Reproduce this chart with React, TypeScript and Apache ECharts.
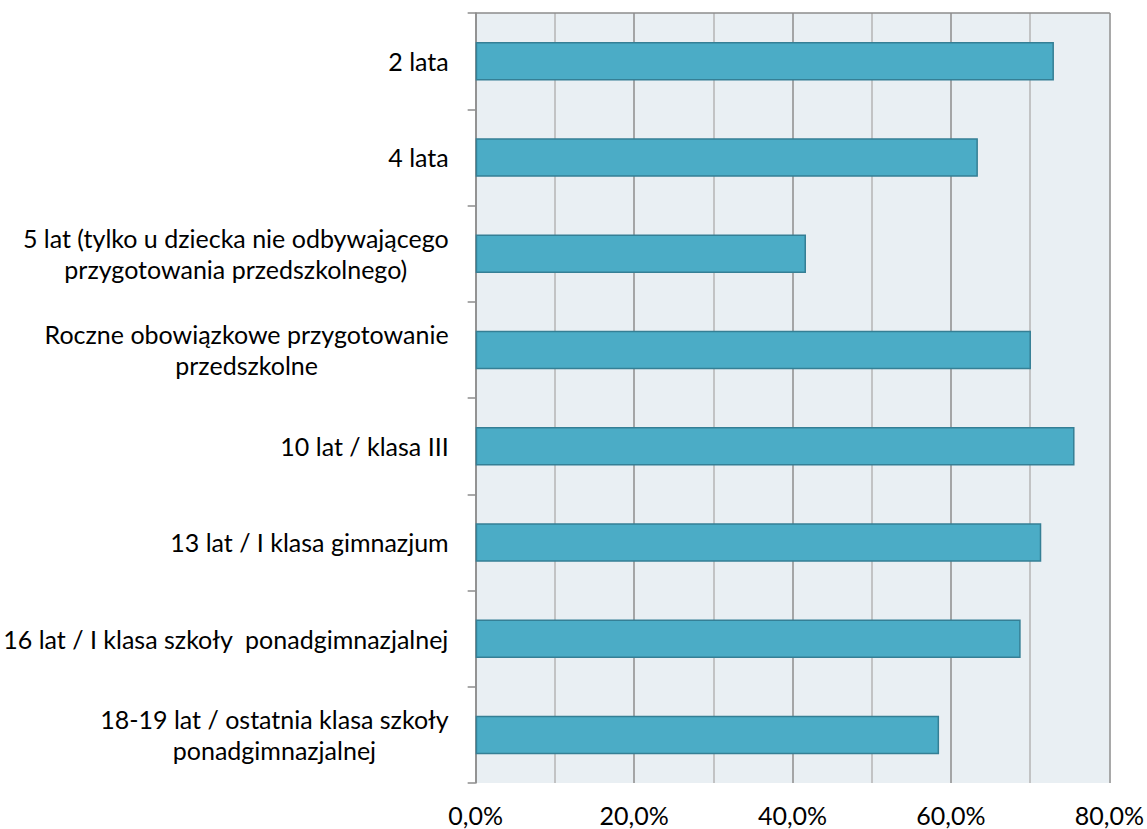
import React, { useEffect, useRef } from "react";
import * as echarts from "echarts";

const categories: string[] = [
  "2 lata",
  "4 lata",
  "5 lat (tylko u dziecka nie odbywającego\nprzygotowania przedszkolnego)",
  "Roczne obowiązkowe przygotowanie\nprzedszkolne",
  "10 lat / klasa III",
  "13 lat / I klasa gimnazjum",
  "16 lat / I klasa szkoły  ponadgimnazjalnej",
  "18-19 lat / ostatnia klasa szkoły\nponadgimnazjalnej",
];

const values: number[] = [73.0, 63.4, 41.7, 70.1, 75.6, 71.4, 68.8, 58.5];

const xMin = 0;
const xMax = 80;
const xMajorStep = 20;

const formatPct = (v: number): string => v.toFixed(1).replace(".", ",") + "%";

const FONT = "Lato";

export default function App() {
  const ref = useRef<HTMLDivElement>(null);

  useEffect(() => {
    if (!ref.current) return;
    const chart = echarts.init(ref.current, undefined, { renderer: "svg" });
    chart.setOption({
      animation: false,
      grid: {
        left: 474,
        right: 36,
        top: 13,
        bottom: 46,
        show: true,
        backgroundColor: "#e9eff3",
        borderWidth: 0,
      },
      xAxis: [
        {
          type: "value",
          position: "bottom",
          min: xMin,
          max: xMax,
          interval: xMajorStep,
          axisLine: { show: false },
          axisTick: { show: false },
          axisLabel: {
            formatter: (v: number) => formatPct(v),
            fontFamily: FONT,
            fontSize: 25,
            color: "#000",
            margin: 19,
          },
          splitLine: { show: true, lineStyle: { color: "#8c8c8c", width: 1.5 } },
          minorTick: { show: false, splitNumber: 2 },
          minorSplitLine: { show: true, lineStyle: { color: "#b5b5b5", width: 1.5 } },
        },
        {
          type: "value",
          position: "top",
          min: xMin,
          max: xMax,
          axisLine: { show: true, lineStyle: { color: "#8c8c8c", width: 1.5 } },
          axisTick: { show: false },
          axisLabel: { show: false },
          splitLine: { show: false },
        },
      ],
      yAxis: {
        type: "category",
        data: categories,
        inverse: true,
        axisLine: { show: true, lineStyle: { color: "#8c8c8c", width: 1.5 } },
        axisTick: { show: true, length: 8, lineStyle: { color: "#8c8c8c", width: 1.5 } },
        axisLabel: {
          margin: 27,
          align: "right",
          formatter: (v: string) =>
            v
              .split("\n")
              .map((l) => `{c|${l}}`)
              .join("\n"),
          rich: {
            c: {
              align: "center",
              fontFamily: FONT,
              fontSize: 25,
              color: "#000",
              lineHeight: 31,
            },
          },
        },
      },
      series: [
        {
          type: "bar",
          xAxisIndex: 0,
          data: values,
          barWidth: "40%",
          itemStyle: {
            color: "#4bacc6",
            borderColor: "#357f95",
            borderWidth: 1.5,
          },
        },
      ],
    });
    return () => chart.dispose();
  }, []);

  return (
    <div
      ref={ref}
      style={{ position: "fixed", left: 0, top: 0, width: 1147, height: 829, background: "#fff" }}
    />
  );
}
